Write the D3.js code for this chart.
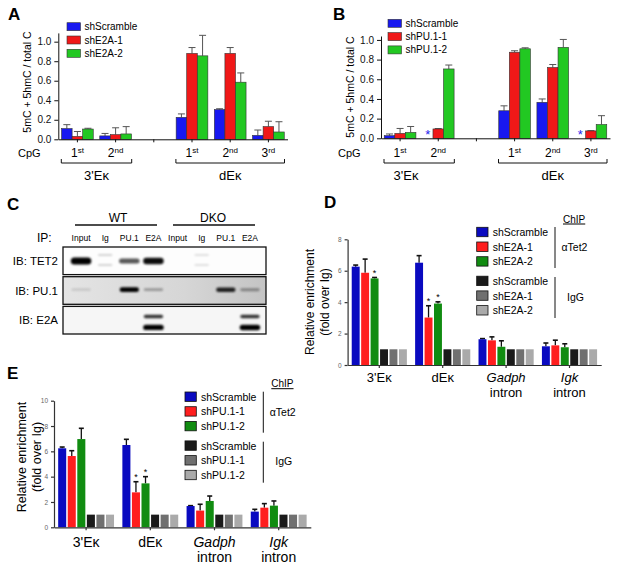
<!DOCTYPE html>
<html>
<head>
<meta charset="utf-8">
<script src="https://cdn.jsdelivr.net/npm/d3@7"></script>
<style>
body { margin: 0; background: #fff; }
svg { font-family: "Liberation Sans", Arial, Helvetica, sans-serif; }
</style>
</head>
<body>
<svg id="fig" width="617" height="582"></svg>
<script>
// ---- A / B : methylation at CpGs ----
var cpgSlots = ["3E-1", "3E-2", "gap", "dE-1", "dE-2", "dE-3"];
var cpgNum = ["1", "2", "", "1", "2", "3"];
var cpgSup = ["st", "nd", "", "st", "nd", "rd"];
var methTicks = [0, 0.2, 0.4, 0.6, 0.8, 1.0];
var methColors = ["#1818f0", "#f01818", "#22c822"];

var aNames = ["shScramble", "shE2A-1", "shE2A-2"];
var aScramble    = [0.11, 0.035, null, 0.225, 0.305, 0.04];
var aScrambleErr = [0.04, 0.025, null, 0.035, 0.008, 0.055];
var aE2A1        = [0.03, 0.048, null, 0.88, 0.88, 0.13];
var aE2A1Err     = [0.05, 0.07, null, 0.06, 0.06, 0.055];
var aE2A2        = [0.105, 0.055, null, 0.855, 0.585, 0.075];
var aE2A2Err     = [0.008, 0.075, null, 0.21, 0.095, 0.105];

var bNames = ["shScramble", "shPU.1-1", "shPU.1-2"];
var bScramble    = [0.027, null, null, 0.28, 0.366, null];
var bScrambleErr = [0.017, null, null, 0.05, 0.034, null];
var bPU1         = [0.05, 0.095, null, 0.875, 0.72, 0.075];
var bPU1Err      = [0.05, 0.004, null, 0.015, 0.03, 0.003];
var bPU2         = [0.06, 0.705, null, 0.91, 0.925, 0.14];
var bPU2Err      = [0.06, 0.04, null, 0.01, 0.08, 0.09];

// ---- C : co-IP blot ----
var blotLanes = ["Input", "Ig", "PU.1", "E2A", "Input", "Ig", "PU.1", "E2A"];
var blotRows = ["IB: TET2", "IB: PU.1", "IB: E2A"];
var blotTet2       = [1.0, 0, 0.6, 0.9, 0, 0, 0, 0];
var blotTet2Faint  = [0, 0.12, 0, 0, 0, 0.07, 0, 0];
var blotPu1        = [0.08, 0, 0.95, 0.25, 0, 0, 0.8, 0.3];
var blotE2aUpper   = [0, 0, 0, 0.75, 0, 0, 0, 0.75];
var blotE2aLower   = [0, 0, 0, 0.95, 0, 0, 0, 1.0];

// ---- D / E : ChIP ----
var loci = ["3'Eκ", "dEκ", "Gadph", "Igk"];
var lociItalic = [false, false, true, true];
var lociSub = ["", "", "intron", "intron"];
var chipColors = ["#0a0ac0", "#ff1e1e", "#118c11", "#1a1a1a", "#707070", "#aaaaaa"];

var dNames = ["shScramble", "shE2A-1", "shE2A-2"];
var dTet2Scramble    = [6.26, 6.51, 1.64, 1.19];
var dTet2ScrambleErr = [0.10, 0.45, 0.04, 0.21];
var dTet2E2A1        = [5.87, 3.02, 1.57, 1.25];
var dTet2E2A1Err     = [0.87, 0.75, 0.22, 0.33];
var dTet2E2A2        = [5.51, 3.91, 1.16, 1.13];
var dTet2E2A2Err     = [0.06, 0.11, 0.38, 0.22];
var dStarE2A1 = [0, 1, 0, 0];
var dStarE2A2 = [1, 1, 0, 0];
var dIgG = [1, 1, 1, 1];
var dTicks = [0, 2, 4, 6, 8];

var eNames = ["shScramble", "shPU.1-1", "shPU.1-2"];
var eTet2Scramble    = [6.24, 6.50, 1.68, 1.24];
var eTet2ScrambleErr = [0.10, 0.45, 0.03, 0.18];
var eTet2PU1         = [5.63, 2.76, 1.32, 1.55];
var eTet2PU1Err      = [0.42, 0.84, 0.50, 0.32];
var eTet2PU2         = [6.97, 3.47, 2.08, 1.71];
var eTet2PU2Err      = [0.85, 0.53, 0.39, 0.37];
var eStarPU1 = [0, 1, 0, 0];
var eStarPU2 = [0, 1, 0, 0];
var eIgG = [1, 1, 1, 1];
var eTicks = [0, 2, 4, 6, 8, 10];

var svg = d3.select("#fig");
var defs = svg.append("defs");

defs.append("filter").attr("id", "blur")
    .attr("x", "-50%").attr("y", "-150%").attr("width", "200%").attr("height", "400%")
    .append("feGaussianBlur").attr("stdDeviation", "1.2");

var grad = defs.append("linearGradient").attr("id", "pugrad");
grad.append("stop").attr("offset", "0%").attr("stop-color", "#e4e4e4");
grad.append("stop").attr("offset", "60%").attr("stop-color", "#d6d6d6");
grad.append("stop").attr("offset", "100%").attr("stop-color", "#c4c4c4");

function panelLabel(txt, x, y) {
    svg.append("text").attr("x", x).attr("y", y)
        .attr("font-size", 17).attr("font-weight", "bold").text(txt);
}

// methylation bar chart (A, B)
function drawMeth(o) {
    var g = svg.append("g");
    var x0 = d3.scaleBand().domain(cpgSlots).range([o.left, o.right]);
    var x1 = d3.scaleBand().domain([0, 1, 2])
        .range([x0.bandwidth() * 0.085, x0.bandwidth() * 0.915]);
    var y = d3.scaleLinear().domain([0, o.top]).range([o.y0, o.yTop]);

    o.series.forEach(function(s, si) {
        cpgSlots.forEach(function(c, i) {
            var v = s.vals[i];
            var bx = x0(c) + x1(si);
            if (v === null) {
                if (s.star && c !== "gap") {
                    g.append("text").attr("x", bx + x1.bandwidth() / 2).attr("y", o.y0 + 1)
                        .attr("text-anchor", "middle").attr("font-size", 13)
                        .attr("fill", "#2222ee").text("*");
                }
                return;
            }
            var cx = bx + x1.bandwidth() / 2;
            var top = y(v + s.err[i]);
            g.append("line").attr("x1", cx).attr("x2", cx)
                .attr("y1", y(v)).attr("y2", top)
                .attr("stroke", "#555").attr("stroke-width", 1);
            g.append("line").attr("x1", cx - 3.5).attr("x2", cx + 3.5)
                .attr("y1", top).attr("y2", top)
                .attr("stroke", "#555").attr("stroke-width", 1);
            g.append("rect").attr("x", bx).attr("y", y(v))
                .attr("width", x1.bandwidth()).attr("height", o.y0 - y(v))
                .attr("fill", methColors[si]).attr("stroke", "#333").attr("stroke-width", 0.6);
        });
    });

    var ya = g.append("g").attr("transform", "translate(" + o.left + ",0)")
        .call(d3.axisLeft(y).tickValues(methTicks).tickFormat(d3.format(".1f"))
            .tickSize(4).tickSizeOuter(0));
    ya.selectAll("text").attr("font-size", 10).attr("fill", "#111")
        .attr("font-family", "Liberation Sans, Arial, sans-serif");
    ya.selectAll("path,line").attr("stroke", "#111");

    var xa = g.append("g").attr("transform", "translate(0," + o.y0 + ")")
        .call(d3.axisBottom(x0).tickSize(3).tickSizeOuter(0).tickFormat(""));
    xa.selectAll("path,line").attr("stroke", "#111");

    g.append("text").attr("x", o.cpgX).attr("y", 157).attr("font-size", 11).text("CpG");
    cpgSlots.forEach(function(c, i) {
        if (!cpgNum[i]) return;
        var t = g.append("text").attr("x", x0(c) + x0.bandwidth() / 2).attr("y", 157)
            .attr("text-anchor", "middle").attr("font-size", 12);
        t.append("tspan").text(cpgNum[i]);
        t.append("tspan").attr("font-size", 8).attr("dy", -4.5).text(cpgSup[i]);
    });

    function bracket(c1, c2, label, lx) {
        var xa1 = x0(c1) + 3, xa2 = x0(c2) + x0.bandwidth() - 3;
        g.append("path")
            .attr("d", "M" + xa1 + ",159V163H" + xa2 + "V159")
            .attr("fill", "none").attr("stroke", "#111").attr("stroke-width", 1);
        g.append("text").attr("x", lx != null ? lx : (xa1 + xa2) / 2).attr("y", 180)
            .attr("text-anchor", "middle").attr("font-size", 13).text(label);
    }
    bracket("3E-1", "3E-2", "3'Eκ", o.lab3E);
    bracket("dE-1", "dE-3", "dEκ");

    g.append("text").attr("transform", "translate(" + o.ylabX + "," + o.ylabY + ") rotate(-90)")
        .attr("text-anchor", "middle").attr("dominant-baseline", "central")
        .attr("font-size", 10.5).text("5mC + 5hmC / total C");

    o.names.forEach(function(n, i) {
        var ly = o.legY + i * 13.3;
        g.append("rect").attr("x", o.legX).attr("y", ly - 4).attr("width", 13.5).attr("height", 8)
            .attr("fill", methColors[i]).attr("stroke", "#333").attr("stroke-width", 0.6);
        g.append("text").attr("x", o.legX + 17.5).attr("y", ly)
            .attr("dominant-baseline", "central").attr("font-size", 10).text(n);
    });
}

panelLabel("A", 8, 20);
drawMeth({
    left: 58.3, right: 287.5, y0: 139.3, yTop: 32.9, top: 1.09,
    series: [
        { vals: aScramble, err: aScrambleErr },
        { vals: aE2A1, err: aE2A1Err },
        { vals: aE2A2, err: aE2A2Err }
    ],
    names: aNames, legX: 67, legY: 26.7, cpgX: 18, ylabX: 27, ylabY: 82, lab3E: null
});

panelLabel("B", 333, 20);
drawMeth({
    left: 381, right: 610, y0: 138.3, yTop: 36, top: 1.04,
    series: [
        { vals: bScramble, err: bScrambleErr, star: true },
        { vals: bPU1, err: bPU1Err },
        { vals: bPU2, err: bPU2Err }
    ],
    names: bNames, legX: 388, legY: 23.3, cpgX: 338, ylabX: 350, ylabY: 87, lab3E: 406
});

// ---- C ----
panelLabel("C", 7, 210);
(function() {
    var g = svg.append("g");
    var lane = d3.scaleBand().domain(d3.range(8)).range([69, 262]);
    var rowY = d3.scaleBand().domain(blotRows).range([247, 334]).paddingInner(0.07);

    g.append("text").attr("x", 118).attr("y", 222).attr("text-anchor", "middle")
        .attr("font-size", 12).text("WT");
    g.append("text").attr("x", 213).attr("y", 222).attr("text-anchor", "middle")
        .attr("font-size", 12).text("DKO");
    g.append("line").attr("x1", 75).attr("x2", 157).attr("y1", 225).attr("y2", 225)
        .attr("stroke", "#111").attr("stroke-width", 1.5);
    g.append("line").attr("x1", 173).attr("x2", 255).attr("y1", 225).attr("y2", 225)
        .attr("stroke", "#111").attr("stroke-width", 1.5);
    g.append("text").attr("x", 37).attr("y", 242).attr("font-size", 12).text("IP:");
    blotLanes.forEach(function(l, i) {
        g.append("text").attr("x", lane(i) + lane.bandwidth() / 2).attr("y", 241)
            .attr("text-anchor", "middle").attr("font-size", 8.5).text(l);
    });

    var bgs = ["#fdfdfd", "url(#pugrad)", "#f6f6f6"];
    blotRows.forEach(function(r, i) {
        g.append("rect").attr("x", 63).attr("y", rowY(r))
            .attr("width", 203).attr("height", rowY.bandwidth())
            .attr("fill", bgs[i]).attr("stroke", "#111").attr("stroke-width", 1.3);
        g.append("text").attr("x", 58).attr("y", rowY(r) + rowY.bandwidth() / 2)
            .attr("text-anchor", "end").attr("dominant-baseline", "central")
            .attr("font-size", 11.5).text(r);
    });

    function bands(vals, row, dy, hMax, wFrac) {
        vals.forEach(function(k, i) {
            if (!k) return;
            var w = lane.bandwidth() * wFrac;
            var h = 2 + hMax * k;
            var cy = rowY(row) + dy;
            g.append("rect").attr("x", lane(i) + (lane.bandwidth() - w) / 2).attr("y", cy - h / 2)
                .attr("width", w).attr("height", h).attr("rx", h / 2)
                .attr("fill", "#000").attr("opacity", Math.min(1, k + 0.05))
                .attr("filter", "url(#blur)");
        });
    }
    bands(blotTet2, "IB: TET2", 14, 5, 0.85);
    bands(blotTet2Faint, "IB: TET2", 8, 2, 0.6);
    bands(blotTet2Faint, "IB: TET2", 18, 2, 0.6);
    bands(blotPu1, "IB: PU.1", 13, 3, 0.8);
    bands(blotE2aUpper, "IB: E2A", 10, 2, 0.8);
    bands(blotE2aLower, "IB: E2A", 21, 3.5, 0.85);
})();

// ChIP bar chart (D, E)
function drawChip(o) {
    var g = svg.append("g");
    var x0 = d3.scaleBand().domain(loci).range([o.left, o.right]);
    var pad = x0.bandwidth() * 0.065;
    var x1 = d3.scaleBand().domain(d3.range(6)).range([pad, x0.bandwidth() - pad]).paddingInner(0.16);
    var y = d3.scaleLinear().domain([0, o.top]).range([o.y0, o.yTop]);

    o.series.forEach(function(s, si) {
        loci.forEach(function(c, i) {
            var v = s.vals[i];
            var bx = x0(c) + x1(si);
            var cx = bx + x1.bandwidth() / 2;
            var top = y(v);
            if (s.err) {
                top = y(v + s.err[i]);
                g.append("line").attr("x1", cx).attr("x2", cx)
                    .attr("y1", y(v)).attr("y2", top)
                    .attr("stroke", "#111").attr("stroke-width", 1.3);
                g.append("line").attr("x1", cx - 2.5).attr("x2", cx + 2.5)
                    .attr("y1", top).attr("y2", top)
                    .attr("stroke", "#111").attr("stroke-width", 1.6);
            }
            g.append("rect").attr("x", bx).attr("y", y(v))
                .attr("width", x1.bandwidth()).attr("height", o.y0 - y(v))
                .attr("fill", chipColors[si]);
            if (s.stars && s.stars[i]) {
                g.append("text").attr("x", cx).attr("y", top - 1.5)
                    .attr("text-anchor", "middle").attr("font-size", 9).text("*");
            }
        });
    });

    var ya = g.append("g").attr("transform", "translate(" + o.left + ",0)")
        .call(d3.axisLeft(y).tickValues(o.ticks).tickSize(3).tickSizeOuter(0));
    ya.selectAll("text").attr("font-size", 6.5).attr("fill", "#666")
        .attr("font-family", "Liberation Sans, Arial, sans-serif");
    ya.selectAll("path,line").attr("stroke", "#333").attr("stroke-width", 1.2);

    var xa = g.append("g").attr("transform", "translate(0," + o.y0 + ")")
        .call(d3.axisBottom(x0).tickSize(3).tickSizeOuter(0).tickFormat(""));
    xa.selectAll("path,line").attr("stroke", "#333").attr("stroke-width", 1.2);

    loci.forEach(function(c, i) {
        var cx = x0(c) + x0.bandwidth() / 2;
        g.append("text").attr("x", cx).attr("y", o.labY)
            .attr("text-anchor", "middle").attr("font-size", o.labSize)
            .attr("font-style", lociItalic[i] ? "italic" : "normal").text(c);
        if (lociSub[i]) {
            g.append("text").attr("x", cx).attr("y", o.labY + o.labSize * 1.12)
                .attr("text-anchor", "middle").attr("font-size", o.labSize).text(lociSub[i]);
        }
    });

    g.append("text").attr("transform", "translate(" + o.ylabX + "," + o.ylabY + ") rotate(-90)")
        .attr("text-anchor", "middle").attr("dominant-baseline", "central")
        .attr("font-size", o.ylabSize).text("Relative enrichment");
    g.append("text").attr("transform", "translate(" + (o.ylabX + 15) + "," + o.ylabY + ") rotate(-90)")
        .attr("text-anchor", "middle").attr("dominant-baseline", "central")
        .attr("font-size", o.ylabSize).text("(fold over Ig)");

    // legend
    var names = o.names.concat(o.names);
    names.forEach(function(n, i) {
        var ly = o.legY + i * 14.7 + (i > 2 ? 4.8 : 0);
        g.append("rect").attr("x", o.legX).attr("y", ly - 4.7).attr("width", 11.3).attr("height", 9.4)
            .attr("fill", chipColors[i]).attr("stroke", "#111").attr("stroke-width", 0.8);
        g.append("text").attr("x", o.legX + 16).attr("y", ly)
            .attr("dominant-baseline", "central").attr("font-size", 10.5).text(n);
    });
    var vx = o.legX + 78.3;
    g.append("line").attr("x1", vx).attr("x2", vx)
        .attr("y1", o.legY - 5).attr("y2", o.legY + 36)
        .attr("stroke", "#111").attr("stroke-width", 1);
    g.append("line").attr("x1", vx).attr("x2", vx)
        .attr("y1", o.legY + 45).attr("y2", o.legY + 86)
        .attr("stroke", "#111").attr("stroke-width", 1);
    g.append("text").attr("x", vx + 6.5).attr("y", o.legY + 15)
        .attr("dominant-baseline", "central").attr("font-size", 10.5).text("αTet2");
    g.append("text").attr("x", vx + 12).attr("y", o.legY + 64.5)
        .attr("dominant-baseline", "central").attr("font-size", 10.5).text("IgG");
    g.append("text").attr("x", vx + 8).attr("y", o.legY - 9.5)
        .attr("font-size", 10).attr("text-decoration", "underline").text("ChIP");
}

panelLabel("D", 324, 208);
drawChip({
    left: 347.6, right: 601.2, y0: 365, yTop: 239.3, top: 8, ticks: dTicks,
    series: [
        { vals: dTet2Scramble, err: dTet2ScrambleErr },
        { vals: dTet2E2A1, err: dTet2E2A1Err, stars: dStarE2A1 },
        { vals: dTet2E2A2, err: dTet2E2A2Err, stars: dStarE2A2 },
        { vals: dIgG }, { vals: dIgG }, { vals: dIgG }
    ],
    names: dNames, legX: 476.7, legY: 232,
    labY: 382, labSize: 13, ylabX: 310, ylabY: 302, ylabSize: 12
});

panelLabel("E", 7, 379);
drawChip({
    left: 54, right: 310.8, y0: 527.3, yTop: 400.7, top: 10, ticks: eTicks,
    series: [
        { vals: eTet2Scramble, err: eTet2ScrambleErr },
        { vals: eTet2PU1, err: eTet2PU1Err, stars: eStarPU1 },
        { vals: eTet2PU2, err: eTet2PU2Err, stars: eStarPU2 },
        { vals: eIgG }, { vals: eIgG }, { vals: eIgG }
    ],
    names: eNames, legX: 185, legY: 396.7,
    labY: 546.7, labSize: 14, ylabX: 21.7, ylabY: 457, ylabSize: 12.5
});
</script>
</body>
</html>
